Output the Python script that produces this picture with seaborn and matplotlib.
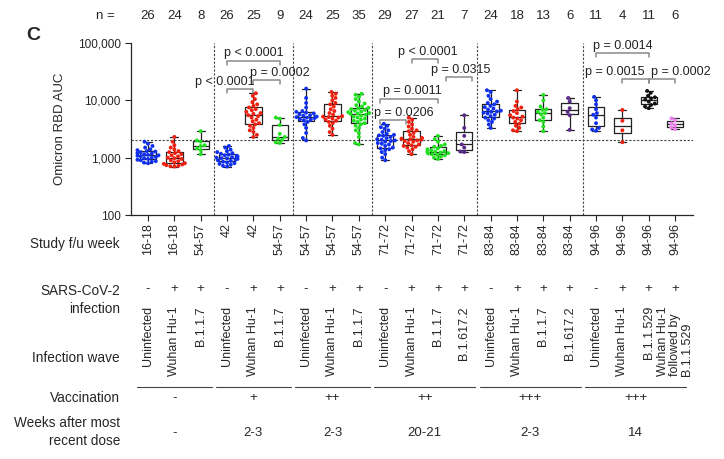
import numpy as np
import pandas as pd
import seaborn as sns
import matplotlib.pyplot as plt
from matplotlib import transforms
from matplotlib.lines import Line2D
from matplotlib.ticker import FuncFormatter, NullLocator

sns.set_style('ticks')
plt.rcParams['font.family'] = ['Liberation Sans', 'DejaVu Sans']

# Omicron RBD AUC per sample, one list per column of the chart
auc_00 = [800, 820, 850, 870, 900, 920, 950, 980, 1000, 1030, 1060, 1080, 1100,
          1120, 1150, 1180, 1200, 1250, 1280, 1300, 1350, 1400, 1500, 1600, 1750, 1900]
auc_01 = [700, 710, 720, 740, 760, 780, 800, 830, 870, 900, 950, 980, 1000,
          1050, 1100, 1150, 1200, 1250, 1300, 1400, 1500, 1650, 1900, 2300]
auc_02 = [1150, 1350, 1450, 1600, 1650, 1900, 2000, 2900]
auc_03 = [700, 720, 750, 780, 800, 820, 850, 880, 900, 930, 950, 970, 980,
          1000, 1020, 1050, 1080, 1100, 1130, 1170, 1200, 1250, 1300, 1380, 1500, 1600]
auc_04 = [2300, 2500, 2800, 3000, 3300, 3600, 3800, 4000, 4300, 4600, 5000, 5300, 5500,
          5800, 6000, 6300, 6700, 7000, 7500, 8000, 8500, 9300, 10500, 12000, 13300]
auc_05 = [1800, 1850, 2050, 2150, 2300, 2600, 3700, 4800, 5000]
auc_06 = [2000, 2200, 2700, 3300, 3800, 4200, 4500, 4600, 4700, 4900, 5000, 5100,
          5200, 5400, 5500, 5700, 5900, 6100, 6300, 6500, 7500, 9000, 11000, 16000]
auc_07 = [2500, 2800, 3200, 3600, 4000, 4200, 4400, 4600, 4800, 5000, 5100, 5200, 5300,
          5600, 6000, 6500, 7000, 7800, 8500, 9000, 10000, 11000, 12000, 13000, 14000]
auc_08 = [1700, 1800, 2300, 2700, 3000, 3300, 3600, 3800, 4000, 4200, 4400, 4600,
          4800, 5000, 5200, 5400, 5600, 5800, 5900, 6000, 6200, 6400, 6600, 6800,
          7000, 7200, 7400, 7800, 8200, 8800, 9500, 10500, 11500, 12500, 13000]
auc_09 = [900, 1000, 1150, 1250, 1350, 1400, 1450, 1500, 1600, 1700, 1750, 1800, 1900,
          1950, 2000, 2050, 2100, 2200, 2300, 2400, 2450, 2500, 2600, 2800, 3000,
          3200, 3400, 3600, 3900]
auc_10 = [1150, 1300, 1400, 1500, 1550, 1600, 1650, 1700, 1800, 1900, 1950, 2000,
          2050, 2100, 2150, 2200, 2300, 2500, 2700, 2900, 3000, 3200, 3500, 3800,
          4200, 4600, 5000]
auc_11 = [950, 1000, 1050, 1100, 1120, 1150, 1180, 1200, 1230, 1260, 1280, 1300,
          1350, 1400, 1450, 1550, 1600, 1700, 1900, 2100, 2400]
auc_12 = [1250, 1280, 1500, 1700, 2400, 3300, 5500]
auc_13 = [3300, 3800, 4200, 4500, 4800, 5000, 5300, 5600, 5900, 6100, 6300, 6400,
          6600, 6900, 7200, 7600, 8000, 8500, 9000, 9500, 10500, 12000, 14000, 15000]
auc_14 = [2900, 3000, 3300, 3600, 3900, 4200, 4500, 4800, 5000, 5200, 5500, 6000,
          6500, 7000, 7500, 8000, 9500, 15000]
auc_15 = [2900, 3500, 4200, 4500, 5000, 5700, 6000, 6300, 6800, 7000, 7800, 10000, 12400]
auc_16 = [3050, 5500, 6300, 7300, 9500, 11000]
auc_17 = [2950, 3100, 3300, 4000, 5000, 5600, 6000, 7000, 8500, 10000, 11500]
auc_18 = [1860, 3000, 4400, 6800]
auc_19 = [7300, 7800, 8300, 8800, 9500, 10300, 10800, 11300, 12000, 13500, 14600]
auc_20 = [3150, 3350, 3700, 3950, 4500, 4850]

groups = [auc_00, auc_01, auc_02, auc_03, auc_04, auc_05, auc_06, auc_07, auc_08,
          auc_09, auc_10, auc_11, auc_12, auc_13, auc_14, auc_15, auc_16,
          auc_17, auc_18, auc_19, auc_20]

study_week = ['16-18', '16-18', '54-57', '42', '42', '54-57', '54-57', '54-57', '54-57',
              '71-72', '71-72', '71-72', '71-72', '83-84', '83-84', '83-84', '83-84',
              '94-96', '94-96', '94-96', '94-96']
infection = ['-', '+', '+', '-', '+', '+', '-', '+', '+', '-', '+', '+', '+',
             '-', '+', '+', '+', '-', '+', '+', '+']
wave = ['Uninfected', 'Wuhan Hu-1', 'B.1.1.7', 'Uninfected', 'Wuhan Hu-1', 'B.1.1.7',
        'Uninfected', 'Wuhan Hu-1', 'B.1.1.7', 'Uninfected', 'Wuhan Hu-1', 'B.1.1.7',
        'B.1.617.2', 'Uninfected', 'Wuhan Hu-1', 'B.1.1.7', 'B.1.617.2',
        'Uninfected', 'Wuhan Hu-1', 'B.1.1.529', 'Wuhan Hu-1\nfollowed by\nB.1.1.529']
dot_colors = ['#1030f0', '#f02010', '#20e020', '#1030f0', '#f02010', '#20e020',
              '#1030f0', '#f02010', '#20e020', '#1030f0', '#f02010', '#20e020', '#5a2a8a',
              '#1030f0', '#f02010', '#20e020', '#5a2a8a',
              '#1030f0', '#f02010', '#111111', '#f080f0']

group_sizes = [3, 3, 3, 4, 4, 4]
vaccination = ['-', '+', '++', '++', '+++', '+++']
weeks_after = ['-', '2-3', '2-3', '20-21', '2-3', '14']

threshold = 2000

# significance brackets: (left col, right col, bracket level, label)
brackets = [(3, 5, 49300, 'p < 0.0001'), (4, 5, 22700, 'p = 0.0002'),
            (3, 4, 15600, 'p < 0.0001'), (10, 11, 52100, 'p < 0.0001'),
            (11.3, 12.3, 25300, 'p = 0.0315'), (8.8, 11, 10600, 'p = 0.0011'),
            (8.8, 9.8, 4550, 'p = 0.0206'), (17, 19, 66400, 'p = 0.0014'),
            (18, 19, 23300, 'p = 0.0015'), (19, 20, 23300, 'p = 0.0002')]
label_x = [4.0, 5.0, 2.9, 10.6, 11.85, 10.05, 9.7, 18.0, 17.7, 20.2]

keys = [f'c{i:02d}' for i in range(len(groups))]
df = pd.DataFrame({
    'col': np.repeat(keys, [len(g) for g in groups]),
    'auc': np.concatenate(groups),
})

W, H = 724, 459
fig = plt.figure(figsize=(W / 100, H / 100), dpi=100)
ax = fig.add_axes([131 / W, 1 - 215 / H, 562 / W, 172 / H])

sns.boxplot(data=df, x='col', y='auc', order=keys, ax=ax, fill=False, color='#222222',
            width=0.62, whis=(0, 100), linewidth=0.9, showfliers=False, log_scale=True)
sns.swarmplot(data=df, x='col', y='auc', order=keys, hue='col', hue_order=keys,
              palette=dict(zip(keys, dot_colors)), ax=ax, size=2.8, legend=False,
              warn_thresh=1, log_scale=True, zorder=3)

ax.set_ylim(100, 100000)
ax.set_xlim(-0.645, 20.68)
ax.set_yticks([100, 1000, 10000, 100000])
ax.yaxis.set_minor_locator(NullLocator())
ax.yaxis.set_major_formatter(FuncFormatter(lambda v, _: f'{int(round(v)):,}'))
ax.set_xticks(range(len(groups)))
ax.set_xticklabels(study_week, rotation=90, fontsize=9)
ax.tick_params(axis='y', labelsize=8.5, length=4, width=0.8)
ax.tick_params(axis='x', length=4, width=0.8, pad=2)
ax.set_xlabel('')
ax.set_ylabel('Omicron RBD AUC', fontsize=9.5)
ax.yaxis.set_label_coords(-0.115, 0.5)
for s in ['left', 'bottom']:
    ax.spines[s].set_linewidth(0.9)
sns.despine(ax=ax)

ax.axhline(threshold, color='#444444', lw=0.8, ls=(0, (2, 1.5)), zorder=1)
edges = np.cumsum(group_sizes)[:-1] - 0.5
for e in edges:
    ax.axvline(e, color='#444444', lw=0.8, ls=(0, (2, 1.5)), zorder=1)

for (a, b, lev, txt), tx in zip(brackets, label_x):
    drop = lev / 1.17
    ax.plot([a, a, b, b], [drop, lev, lev, drop], color='#8a8a8a', lw=1.1,
            clip_on=False, zorder=2)
    ax.annotate(txt, (tx, lev), xytext=(0, 1), textcoords='offset points',
                ha='center', va='bottom', fontsize=9, color='#222222')

trans = transforms.blended_transform_factory(ax.transData, fig.transFigure)


def fy(px):
    return 1 - px / H


fig.text(33 / W, fy(35), 'C', fontsize=14, fontweight='bold', ha='center', va='center')
fig.text(105 / W, fy(16), 'n =', fontsize=9.5, ha='center', va='center')
for i, g in enumerate(groups):
    ax.text(i, fy(16), str(len(g)), transform=trans, ha='center', va='center', fontsize=9.5)

row_x = 120 / W
row_fs = 9.8
fig.text(row_x, fy(244), 'Study f/u week', ha='right', va='center', fontsize=row_fs)
fig.text(row_x, fy(300), 'SARS-CoV-2\ninfection', ha='right', va='center', fontsize=row_fs,
         multialignment='right', linespacing=1.45)
fig.text(row_x, fy(358), 'Infection wave', ha='right', va='center', fontsize=row_fs)
fig.text(row_x, fy(398), 'Vaccination', ha='right', va='center', fontsize=row_fs)
fig.text(row_x, fy(432), 'Weeks after most\nrecent dose', ha='right', va='center',
         fontsize=row_fs, multialignment='right', linespacing=1.35)

for i, (inf, wv) in enumerate(zip(infection, wave)):
    ax.text(i, fy(289), inf, transform=trans, ha='center', va='center', fontsize=9.5)
    ax.text(i, fy(306), wv, transform=trans, ha='center', va='top', rotation=90,
            fontsize=9, multialignment='left', linespacing=1.0)

start = 0
for size, vac, wk in zip(group_sizes, vaccination, weeks_after):
    end = start + size - 1
    mid = (start + end) / 2
    fig.add_artist(Line2D([start - 0.42, end + 0.42], [fy(387), fy(387)],
                          transform=trans, color='#444444', lw=0.8))
    ax.text(mid, fy(398), vac, transform=trans, ha='center', va='center', fontsize=9.5)
    ax.text(mid, fy(433), wk, transform=trans, ha='center', va='center', fontsize=9.5)
    start = end + 1

fig.savefig('out.png', dpi=100)
